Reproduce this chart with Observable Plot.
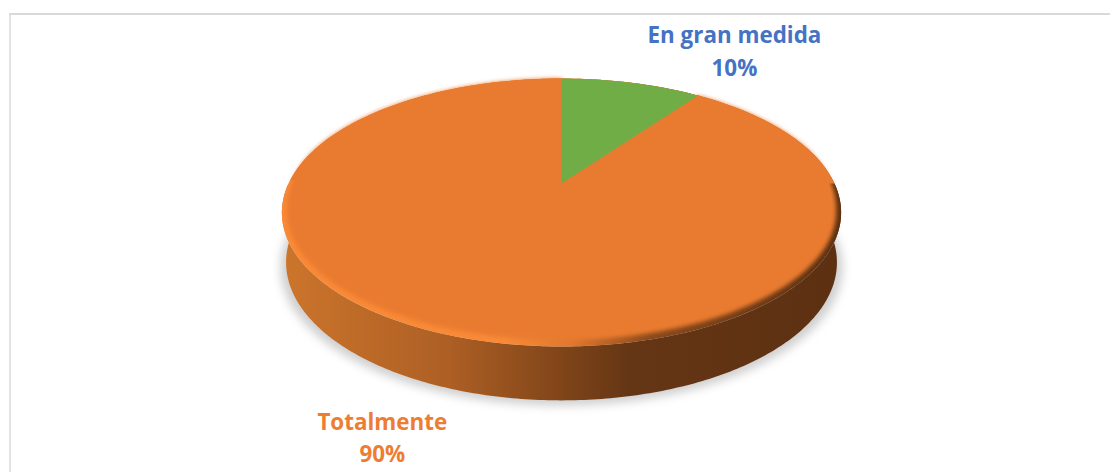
<!DOCTYPE html>
<html>
<head>
<meta charset="utf-8">
<script src="https://cdn.jsdelivr.net/npm/d3@7"></script>
<script src="https://cdn.jsdelivr.net/npm/@observablehq/plot@0.6"></script>
<style>
html,body{margin:0;padding:0;background:#fff;}
#wrap{position:relative;width:1110px;height:472px;overflow:hidden;}
#box{position:absolute;left:9px;top:13px;right:-4px;bottom:-4px;border-top:2px solid #d9d9d9;border-left:2px solid #e2e2e2;}
#wrap svg{position:absolute;left:0;top:0;background:transparent;}
</style>
</head>
<body>
<div id="wrap"><div id="box"></div></div>
<script>
const categories = ["En gran medida", "Totalmente"];
const shares = [10, 90];
const labelColors = ["#4472c4", "#ed7d31"];
const sliceColors = ["#70ad47", "#e97b30"];

// perspective of the tilted disc, in units of the pie radius
const k = -0.2164, depth = 0.384;
const flat = a => {
  const X = Math.sin(a), Y = -Math.cos(a), d = 1 + k * Y;
  return {x: X / d, y: Y / d};
};
const arc = (a0, a1) => d3.range(0, 241).map(i => a0 + (a1 - a0) * i / 240);
// bevel: the face pulls in from the rim on the near side only
const bevel = amount => a => {
  const p = flat(a), Y = -Math.cos(a);
  const t = Math.min(1, Math.max(0, (Y + 0.35) / 0.6));
  const w = t * t * (3 - 2 * t) * amount;
  return {x: p.x * (1 - 0.022 * w), y: p.y * (1 - 0.05 * w)};
};
const lower = p => ({x: p.x * 0.985, y: p.y * 1.03 + depth});

const pie = d3.pie().sort(null).value(d => d)(shares);
const rimAll = arc(0, 2 * Math.PI).map(flat);
const front = arc(Math.PI / 2, 3 * Math.PI / 2);
const sidePoly = [...front.map(flat), ...front.slice().reverse().map(a => lower(flat(a)))];
const shadowPoly = rimAll.map(p => ({x: p.x * 1.005, y: p.y * 1.03 + depth + 0.04}));
const slicePolys = (amount) => pie.map(s => [{x: 0, y: 0}, ...arc(s.startAngle, s.endAngle).map(bevel(amount))]);
const softFace = slicePolys(0.8);
const crispFace = slicePolys(1.5);

const gradients = () => {
  const svg = d3.create("svg:defs");
  const grad = (id, stops) => {
    const g = svg.append("linearGradient").attr("id", id).attr("x1", "0%").attr("x2", "100%").attr("y1", "0%").attr("y2", "0%");
    stops.forEach(([o, c]) => g.append("stop").attr("offset", o).attr("stop-color", c));
  };
  grad("sideGrad", [["0%", "#cc752c"], ["30%", "#ad5f24"], ["50%", "#804519"], ["62%", "#653615"], ["100%", "#5c3011"]]);
  grad("rimGrad", [["0%", "#fb8a36"], ["40%", "#f98a38"], ["52%", "#e0782e"], ["66%", "#8a4a1c"], ["100%", "#5c3011"]]);
  return svg.node();
};

const poly = (data, options) => Plot.line(data, {x: "x", y: "y", stroke: "none", ...options});

const anchors = pie.map(s => flat((s.startAngle + s.endAngle) / 2));
const labelText = categories.map((c, i) => `${c}\n${shares[i]}%`);
const labelOffsets = [[103, -34], [-73, 99]];

const chart = Plot.plot({
  width: 1110,
  height: 472,
  margin: 0,
  x: {domain: [-1, 1], range: [288, 834], axis: null},
  y: {domain: [-1, 1], range: [55.3, 310.7], axis: null},
  style: {background: "transparent"},
  marks: [
    gradients,
    poly(shadowPoly, {fill: "#cfcfcf", imageFilter: "blur(5px)"}),
    poly(sidePoly, {fill: "url(#sideGrad)"}),
    poly(rimAll, {fill: "url(#rimGrad)", imageFilter: "blur(0.7px)"}),
    poly(softFace[1], {fill: sliceColors[1], imageFilter: "blur(2px)"}),
    poly(crispFace[1], {fill: sliceColors[1]}),
    poly(rimAll.filter(p => p.y < 0), {fill: sliceColors[1]}),
    poly(crispFace[0], {fill: sliceColors[0]}),
    ...anchors.map((p, i) => Plot.text([p], {
      x: "x", y: "y", text: () => labelText[i],
      dx: labelOffsets[i][0], dy: labelOffsets[i][1],
      fill: labelColors[i], fontFamily: "Open Sans", fontWeight: 700, fontSize: 22.4, lineHeight: 1.47
    }))
  ]
});
document.getElementById("wrap").appendChild(chart);
</script>
</body>
</html>
